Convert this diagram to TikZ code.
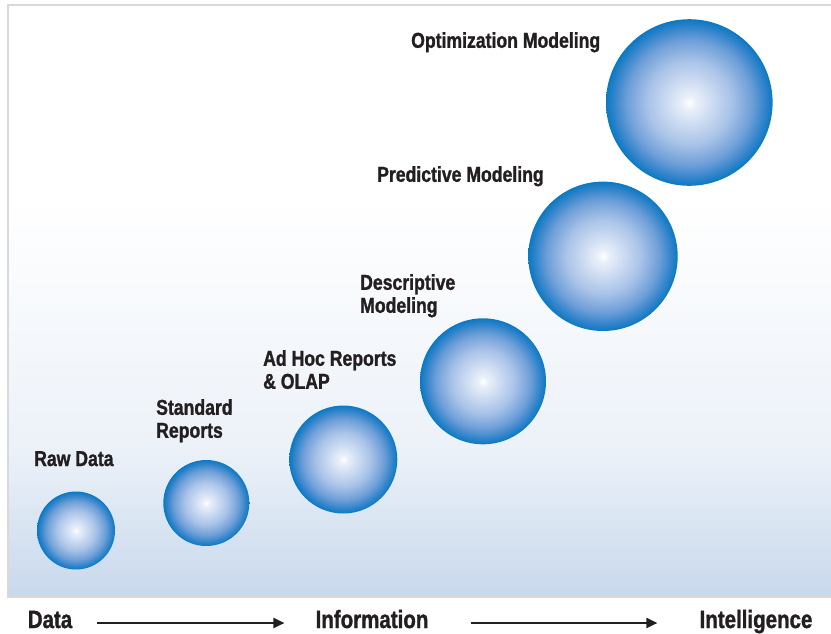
\documentclass[tikz,border=0pt]{standalone}
\usepackage{fontspec}
\setmainfont{Liberation Sans}[FakeStretch=0.82,BoldFeatures={FakeBold=1.2}]
\usepackage{xcolor}
\usetikzlibrary{arrows.meta,positioning}
\definecolor{sphereblue}{RGB}{10,121,195}
\definecolor{spheredeep}{RGB}{53,133,204}
\definecolor{spheremid}{RGB}{110,159,216}
\definecolor{spherelight}{RGB}{169,195,232}
\definecolor{spherecore}{RGB}{234,240,250}
\definecolor{panelblue}{RGB}{200,216,236}
\definecolor{labelgray}{RGB}{35,31,32}
\pgfdeclareradialshading{sphereshade}{\pgfpoint{0bp}{0bp}}{color(0bp)=(white); color(2bp)=(spherecore); color(12.5bp)=(spherelight); color(18.75bp)=(spheremid); color(22.5bp)=(spheredeep); color(25bp)=(sphereblue); color(50bp)=(sphereblue)}
\tikzset{
  sphere/.style={circle,shade,shading=sphereshade,minimum size=#1,inner sep=0pt},
  steplabel/.style={anchor=north west,align=left,inner sep=0pt,text=labelgray,font=\fontsize{21.5}{23}\selectfont\bfseries},
  axislabel/.style={anchor=base,inner sep=0pt,text=labelgray,text height=18pt,text depth=8pt,font=\fontsize{25}{27}\selectfont\bfseries},
  axisarrow/.style={-{Triangle[length=11pt,width=10pt]},line width=2pt,labelgray}
}

\begin{document}
\begin{tikzpicture}[x=1pt,y=-1pt]
    \useasboundingbox (0,0) rectangle (831,633);

    % pannello
    \fill[white] (8,5) rectangle (831,597);
    \shade[top color=white,bottom color=panelblue!35!white] (8,200) rectangle (831,450);
    \shade[top color=panelblue!35!white,bottom color=panelblue] (8,450) rectangle (831,597);
    \draw[black!15,line width=1.2pt] (831,5) -- (8,5) -- (8,597) -- (831,597);

    % sfere
    \node[sphere=78pt] (raw) at (76,530.5) {};
    \node[sphere=86pt] (std) at (206.3,503) {};
    \node[sphere=108pt] (adhoc) at (343.3,459.5) {};
    \node[sphere=126pt] (desc) at (483,381.3) {};
    \node[sphere=149.4pt] (pred) at (603,256.3) {};
    \node[sphere=166.6pt] (optim) at (689.3,102.5) {};

    % etichette
    \node[steplabel] (rawlabel) at (34,451) {Raw Data};
    \node[steplabel] (stdlabel) at (156,399) {Standard\\Reports};
    \node[steplabel] (adhoclabel) at (263,350) {Ad Hoc Reports\\\& OLAP};
    \node[steplabel] (desclabel) at (360,274) {Descriptive\\Modeling};
    \node[steplabel] (predlabel) at (377,166) {Predictive Modeling};
    \node[steplabel] (optimlabel) at (411,32) {Optimization Modeling};

    % asse in basso
    \node[axislabel] (data) at (50,628) {Data};
    \node[axislabel] (info) at (372,628) {Information};
    \node[axislabel] (intel) at (756,628) {Intelligence};
    \draw[axisarrow,shorten <=25pt,shorten >=31pt] (data) -- (info);
    \draw[axisarrow,shorten <=42pt,shorten >=42pt] (info) -- (intel);
\end{tikzpicture}
\end{document}
